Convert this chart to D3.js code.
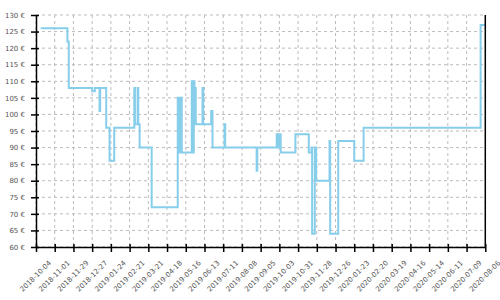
<!DOCTYPE html>
<html>
<head>
<meta charset="utf-8">
<script src="https://cdn.jsdelivr.net/npm/d3@7"></script>
<style>
  body { margin: 0; background: #fff; }
  .axis text { font-family: "DejaVu Sans", sans-serif; font-size: 7px; fill: #555; }
  .axis path, .axis line { stroke: #000; stroke-width: 1.5; }
  .grid line { stroke: #bbb; stroke-dasharray: 3,3; }
</style>
</head>
<body>
<div id="chart"></div>
<script>
var width = 500;
var height = 300;

var margin = {top: 15, right: 14.7, bottom: 53, left: 36};
var chartWidth = width - margin.left - margin.right;
var chartHeight = height - margin.top - margin.bottom;

// price history (step changes)
var dates = [
  "2018-10-11", "2018-11-20", "2018-11-22", "2018-12-27", "2018-12-31",
  "2019-01-07", "2019-01-08", "2019-01-17", "2019-01-22", "2019-01-29",
  "2019-02-28", "2019-03-01", "2019-03-05", "2019-03-06", "2019-03-08",
  "2019-03-26", "2019-05-04", "2019-05-06", "2019-05-08", "2019-05-10",
  "2019-05-25", "2019-05-27", "2019-05-28", "2019-05-29", "2019-05-31",
  "2019-06-10", "2019-06-11", "2019-06-23", "2019-06-25", "2019-07-13",
  "2019-07-14", "2019-08-30", "2019-08-31", "2019-09-29", "2019-10-01",
  "2019-10-02", "2019-10-05", "2019-10-27", "2019-11-16", "2019-11-20",
  "2019-11-21", "2019-11-25", "2019-11-27", "2019-12-17", "2019-12-18",
  "2019-12-30", "2020-01-23", "2020-02-06", "2020-07-30", "2020-08-06"
];
var prices = [
  126, 122, 108, 107, 108,
  101, 108, 96, 86, 96,
  108, 97, 108, 97, 90,
  72, 105, 88.5, 105, 88.5,
  110, 88.5, 110, 108, 97,
  108, 97, 101, 90, 97,
  90, 83, 90, 94, 90,
  94, 88.5, 94, 88.5, 90,
  64, 90, 80, 92, 64,
  92, 86, 96, 127, 127
];

var xTickLabels = [
  "2018-10-04", "2018-11-01", "2018-11-29", "2018-12-27", "2019-01-24",
  "2019-02-21", "2019-03-21", "2019-04-18", "2019-05-16", "2019-06-13",
  "2019-07-11", "2019-08-08", "2019-09-05", "2019-10-03", "2019-10-31",
  "2019-11-28", "2019-12-26", "2020-01-23", "2020-02-20", "2020-03-19",
  "2020-04-16", "2020-05-14", "2020-06-11", "2020-07-09", "2020-08-06"
];
var yTicks = [60, 65, 70, 75, 80, 85, 90, 95, 100, 105, 110, 115, 120, 125, 130];

var parseDate = d3.utcParse("%Y-%m-%d");

var data = dates.map(function (d, i) {
  return {date: parseDate(d), price: prices[i]};
});
var tickDates = xTickLabels.map(parseDate);

var svg = d3.select("#chart")
  .append("svg")
  .attr("width", width)
  .attr("height", height)
  .append("g")
    .attr("transform", "translate(" + margin.left + "," + margin.top + ")");

var x = d3.scaleUtc()
  .domain([tickDates[0], tickDates[tickDates.length - 1]])
  .range([0, chartWidth]);

var y = d3.scaleLinear()
  .domain([60, 130])
  .range([chartHeight, 0]);

// grid
svg.append("g")
  .attr("class", "grid")
  .selectAll("line.h")
  .data(yTicks)
  .enter().append("line")
    .attr("x1", 0)
    .attr("x2", chartWidth)
    .attr("y1", function (d) { return y(d); })
    .attr("y2", function (d) { return y(d); });

svg.append("g")
  .attr("class", "grid")
  .selectAll("line.v")
  .data(tickDates)
  .enter().append("line")
    .attr("x1", function (d) { return x(d); })
    .attr("x2", function (d) { return x(d); })
    .attr("y1", 0)
    .attr("y2", chartHeight);

// price line
var line = d3.line()
  .curve(d3.curveStepAfter)
  .x(function (d) { return x(d.date); })
  .y(function (d) { return y(d.price); });

svg.append("path")
  .datum(data)
  .attr("fill", "none")
  .attr("stroke", "#87ceeb")
  .attr("stroke-width", 2)
  .attr("d", line);

// x axis
var xAxis = svg.append("g")
  .attr("class", "axis")
  .attr("transform", "translate(0," + chartHeight + ")")
  .call(d3.axisBottom(x)
    .tickValues(tickDates)
    .tickSize(5)
    .tickSizeOuter(0)
    .tickFormat(d3.utcFormat("%Y-%m-%d")));

xAxis.selectAll(".tick line").attr("y1", -3);
xAxis.selectAll(".tick text")
  .attr("x", 0)
  .attr("y", 0)
  .attr("dy", "0.35em")
  .attr("text-anchor", "middle")
  .attr("transform", "translate(-1,29) rotate(-45)");

// y axis
var yAxis = svg.append("g")
  .attr("class", "axis")
  .call(d3.axisLeft(y)
    .tickValues(yTicks)
    .tickSize(5)
    .tickSizeOuter(0)
    .tickPadding(6)
    .tickFormat(function (d) { return d + " €"; }));

yAxis.selectAll(".tick line").attr("x1", 3);

// right border
svg.append("line")
  .attr("x1", chartWidth)
  .attr("x2", chartWidth)
  .attr("y1", 0)
  .attr("y2", chartHeight)
  .attr("stroke", "#000")
  .attr("stroke-width", 1.5);
</script>
</body>
</html>
